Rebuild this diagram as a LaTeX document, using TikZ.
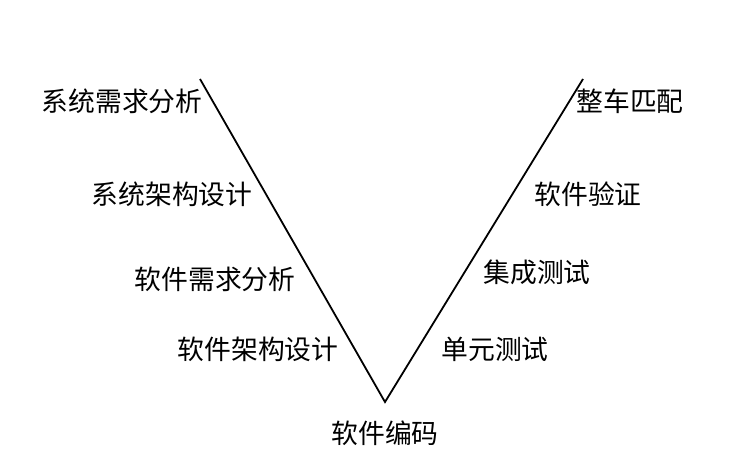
\documentclass[tikz,border=0pt]{standalone}
\usepackage{fontspec}
\setmainfont{Noto Sans CJK SC}
\begin{document}
\begin{tikzpicture}[x=1pt,y=-1pt,
  lbl/.style={inner sep=0pt,anchor=center,font=\fontsize{26.8}{28}\selectfont},
  vline/.style={draw=black,line width=1.8pt,line join=miter}]
\useasboundingbox (0,0) rectangle (751,474);
\coordinate (tl) at (200,79);
\coordinate (bot) at (385,402);
\coordinate (tr) at (583,79);
\draw[vline] (tl) -- (bot) -- (tr);
\node[lbl] (a1) at (122,101) {系统需求分析};
\node[lbl] (a2) at (172,194) {系统架构设计};
\node[lbl] (a3) at (215,279) {软件需求分析};
\node[lbl] (a4) at (258,349) {软件架构设计};
\node[lbl] (c) at (385,433) {软件编码};
\node[lbl] (b1) at (495,349) {单元测试};
\node[lbl] (b2) at (537,272) {集成测试};
\node[lbl] (b3) at (588,194) {软件验证};
\node[lbl] (b4) at (630,101) {整车匹配};
\end{tikzpicture}
\end{document}
